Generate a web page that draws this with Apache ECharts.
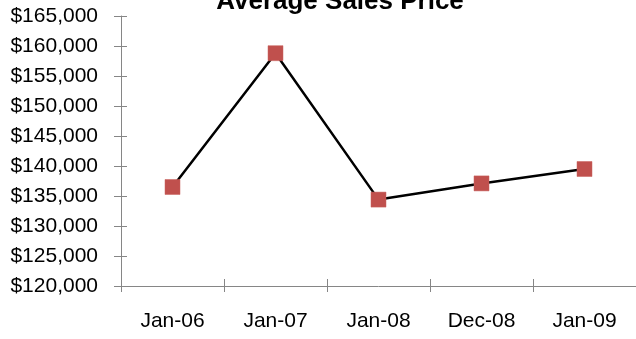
<!DOCTYPE html>
<html>
<head>
<meta charset="utf-8">
<script src="https://cdn.jsdelivr.net/npm/echarts@6/dist/echarts.min.js"></script>
<style>
html,body{margin:0;padding:0;background:#fff;}
#c{width:636px;height:339px;}
</style>
</head>
<body>
<div id="c"></div>
<script>
var categories = ['Jan-06', 'Jan-07', 'Jan-08', 'Dec-08', 'Jan-09'];
var prices = [136500, 158800, 134400, 137100, 139500];
var titleText = 'Average Sales Price';
var yMin = 120000, yMax = 165000, yStep = 5000;

function fmt(v) {
  return '$' + String(v).replace(/\B(?=(\d{3})+(?!\d))/g, ',');
}

var chart = echarts.init(document.getElementById('c'), null, {renderer: 'canvas'});
var font = 'Liberation Sans, Arial, sans-serif';
var axisColor = '#868686';

chart.setOption({
  animation: false,
  backgroundColor: '#ffffff',
  title: {
    text: titleText,
    left: 335, top: -16,
    textAlign: 'center',
    textStyle: {fontFamily: font, fontSize: 26, fontWeight: 'bold', color: '#000'}
  },
  grid: {left: 121, right: 0, top: 16, bottom: 53, containLabel: false},
  xAxis: [{
    type: 'category', data: categories, boundaryGap: true,
    axisLine: {show: true, lineStyle: {color: axisColor, width: 1}},
    axisTick: {show: true, length: 6, alignWithLabel: false, lineStyle: {color: axisColor}},
    axisLabel: {fontFamily: font, fontSize: 21, color: '#000', margin: 25},
    splitLine: {show: false}
  }, {
    type: 'category', data: categories, boundaryGap: true, position: 'bottom',
    axisLine: {show: false},
    axisTick: {show: true, inside: true, length: 7, lineStyle: {color: axisColor}},
    axisLabel: {show: false},
    splitLine: {show: false}
  }],
  yAxis: [{
    type: 'value', min: yMin, max: yMax, interval: yStep,
    axisLine: {show: true, lineStyle: {color: axisColor, width: 1}},
    axisTick: {show: true, length: 7, lineStyle: {color: axisColor}},
    axisLabel: {fontFamily: font, fontSize: 21, color: '#000', margin: 23, formatter: fmt},
    splitLine: {show: false}
  }, {
    type: 'value', min: yMin, max: yMax, interval: yStep, position: 'left',
    axisLine: {show: false},
    axisTick: {show: true, inside: true, length: 6, lineStyle: {color: axisColor}},
    axisLabel: {show: false},
    splitLine: {show: false}
  }],
  series: [{
    type: 'line',
    data: prices,
    symbol: 'rect',
    symbolSize: 15,
    showAllSymbol: true,
    itemStyle: {color: '#C0504D', borderColor: '#C9605D', borderWidth: 0.5},
    lineStyle: {color: '#000', width: 2.5},
    z: 3
  }]
});
</script>
</body>
</html>
